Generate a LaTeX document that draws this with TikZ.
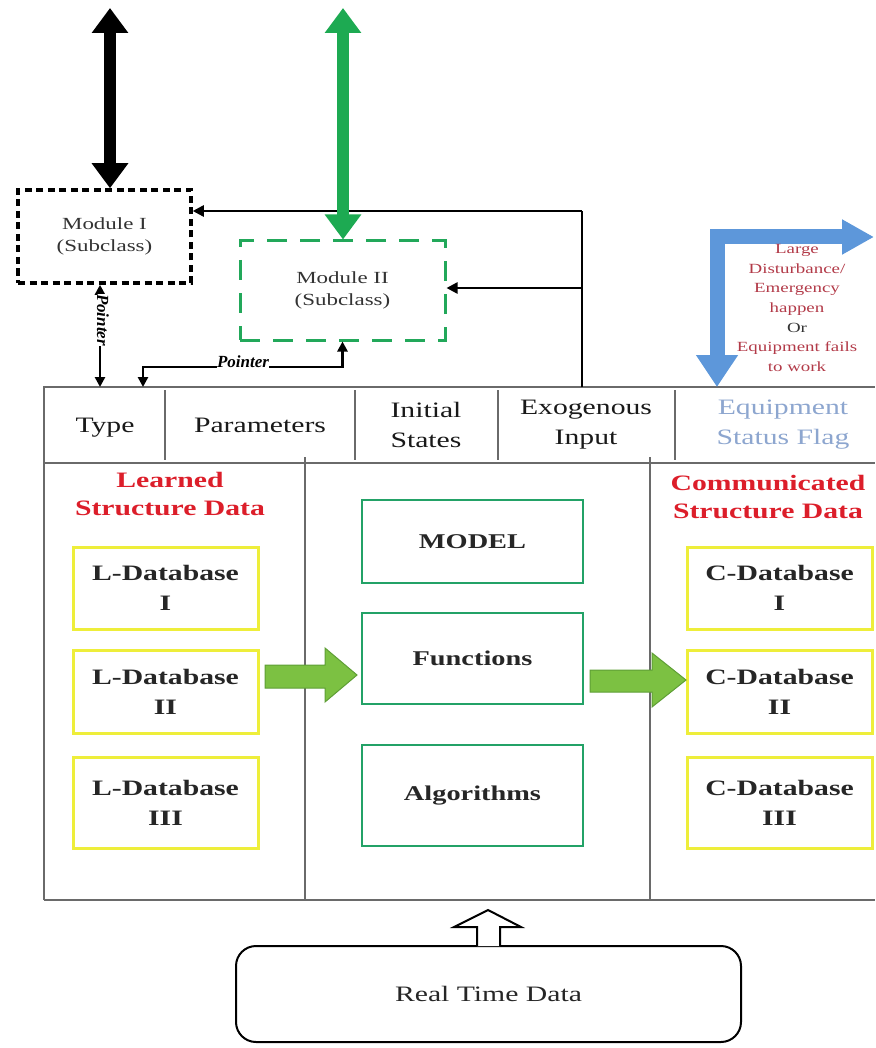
\documentclass[tikz,border=0pt]{standalone}
\usepackage{fontspec}
\setmainfont{Liberation Serif}[FakeStretch=1.35]
\newfontfamily\uprightserif{Liberation Serif}
\usetikzlibrary{arrows.meta}

\definecolor{framegray}{HTML}{6A6A6A}
\definecolor{boxgreen}{HTML}{23A267}
\definecolor{modgreen}{HTML}{22A85A}
\definecolor{bigarrowgreen}{HTML}{1DAA52}
\definecolor{blockfill}{HTML}{7CC142}
\definecolor{blockedge}{HTML}{5E9E35}
\definecolor{dbyellow}{HTML}{EEEE3A}
\definecolor{headred}{HTML}{DC1E2A}
\definecolor{notered}{HTML}{B23A48}
\definecolor{flagblue}{HTML}{5D97DA}
\definecolor{flagtext}{HTML}{8DA6CF}
\definecolor{modtext}{HTML}{333333}

\tikzset{
  frame/.style={draw=framegray, line width=1.5pt},
  hdrtext/.style={align=center, font=\fontsize{22}{30}\selectfont, text=black!90},
  corebox/.style={draw=boxgreen, line width=2.5pt, minimum width=221, align=center,
                  font=\fontsize{21}{28}\selectfont\bfseries, text=black!85},
  dbbox/.style={draw=dbyellow, line width=3pt, minimum width=185, align=center,
                font=\fontsize{22}{30}\selectfont\bfseries, text=black!85},
  heading/.style={align=center, font=\fontsize{22}{28}\selectfont\bfseries, text=headred},
  modbox/.style={minimum width=#1, align=center, font=\fontsize{17}{22}\selectfont, text=modtext},
  link/.style={draw=black, line width=2.5pt, -{Triangle[width=11pt,length=11pt]}},
  ptr/.style={draw=black, line width=2.5pt, {Triangle[width=10pt,length=10pt]}-{Triangle[width=10pt,length=10pt]}},
  ptrlabel/.style={fill=white, inner sep=0.5pt, font=\uprightserif\fontsize{17}{20}\selectfont\bfseries\itshape},
  blockarrow/.style={fill=blockfill, draw=blockedge, line width=1pt, line join=miter},
}

\begin{document}
\begin{tikzpicture}[x=1pt, y=-1pt]
\useasboundingbox (0,0) rectangle (875,1048);

% ---------- main data frame ----------
\draw[frame] (44,900) -- (44,387) -- (875,387);
\draw[frame] (44,463) -- (875,463);
\draw[frame] (44,900) -- (875,900);
\foreach \xx in {165,355,498,675} \draw[frame] (\xx,390) -- (\xx,460);
\draw[frame] (305,457) -- (305,900);
\draw[frame] (650,457) -- (650,900);

% ---------- header cells ----------
\node[hdrtext, anchor=base] (type)  at (105,432) {Type};
\node[hdrtext, anchor=base] (param) at (260,432) {Parameters};
\node[hdrtext] (init)  at (426,425) {Initial\\States};
\node[hdrtext] (exo)   at (586,425) {Exogenous\\Input};
\node[hdrtext, text=flagtext] (flag) at (783,425) {Equipment\\Status Flag};

% ---------- column headings ----------
\node[heading] (learned) at (170,494) {Learned\\Structure Data};
\node[heading] (comm)    at (768,497) {Communicated\\Structure Data};

% ---------- core boxes ----------
\node[corebox, minimum height=83]  (model) at (472.5,541.5) {MODEL};
\node[corebox, minimum height=91]  (func)  at (472.5,658.5) {Functions};
\node[corebox, minimum height=101] (algo)  at (472.5,795.5) {Algorithms};

% ---------- databases ----------
\node[dbbox, minimum height=82] (ldb1) at (165.5,588)   {L-Database\\I};
\node[dbbox, minimum height=83] (ldb2) at (165.5,691.5) {L-Database\\II};
\node[dbbox, minimum height=91] (ldb3) at (165.5,802.5) {L-Database\\III};
\node[dbbox, minimum height=82] (cdb1) at (779.5,588)   {C-Database\\I};
\node[dbbox, minimum height=83] (cdb2) at (779.5,691.5) {C-Database\\II};
\node[dbbox, minimum height=91] (cdb3) at (779.5,802.5) {C-Database\\III};

% ---------- green block arrows ----------
\draw[blockarrow] (265,665) -- (325,665) -- (325,648) -- (357,675) -- (325,702)
  -- (325,688) -- (265,688) -- cycle;
\draw[blockarrow] (590,670) -- (652,670) -- (652,653) -- (686,680) -- (652,707)
  -- (652,692) -- (590,692) -- cycle;

% ---------- real time data ----------
\node[draw=black, line width=2pt, rounded corners=20pt, minimum width=505, minimum height=96,
      font=\fontsize{22}{26}\selectfont, text=black!85] (rtd) at (488.5,994) {Real Time Data};
\draw[draw=black, line width=2pt, fill=white, line join=miter]
  (477,946) -- (477,927) -- (454,927) -- (488,910) -- (521,927) -- (500,927) -- (500,946);

% ---------- modules ----------
\node[modbox=173, minimum height=93, draw=black, line width=3.5pt,
      dash pattern=on 7pt off 4.5pt] (m1) at (104.5,236.5) {Module I\\(Subclass)};
\node[modbox=205, minimum height=99, draw=modgreen, line width=3pt,
      dash pattern=on 20pt off 13pt] (m2) at (342.5,290.5) {Module II\\(Subclass)};

% exogenous input feeding both modules
\coordinate (exotop) at (582,387);
\coordinate (bendA) at (582,211);
\coordinate (bendB) at (582,288);
\draw[draw=black, line width=2.5pt] (exotop) -- (bendA);
\draw[link] (bendA) -- (m1.east |- bendA);
\draw[link] (bendB) -- (m2.east |- bendB);

% pointers from modules to the type cell
\coordinate (ptrA) at (100,387);
\coordinate (ptrB) at (143,387);
\draw[ptr] (m1.south -| ptrA) -- (ptrA);
\node[ptrlabel, rotate=-90] (plabA) at (103,320) {Pointer};
\draw[ptr] (ptrB) -- (143,367) -- (m2.south |- 0,367) -- (m2.south);
\node[ptrlabel, anchor=south] (plabB) at (243,368) {Pointer};

% thick external links
\coordinate (topA) at (110,8);
\coordinate (topB) at (343,8);
\draw[draw=black, line width=12pt,
      {Triangle[width=35pt,length=25pt]}-{Triangle[width=35pt,length=25pt]}]
  (topA) -- (m1.north -| topA);
\draw[draw=bigarrowgreen, line width=12pt,
      {Triangle[width=35pt,length=25pt]}-{Triangle[width=35pt,length=25pt]}]
  (topB) -- (m2.north -| topB);

% equipment status flag event arrow
\coordinate (flagtop) at (717,387);
\coordinate (flagcorner) at (717,237);
\coordinate (flagout) at (874,237);
\draw[draw=flagblue, line width=15pt, line join=miter,
      {Triangle[width=40pt,length=32pt]}-{Triangle[width=33pt,length=32pt]}]
  (flagtop) -- (flagcorner) -- (flagout);
\node[align=center, font=\fontsize{14}{19.7}\selectfont, text=notered] (event) at (797,308)
  {Large\\Disturbance/\\Emergency\\happen\\\textcolor{black!80}{Or}\\Equipment fails\\to work};

\end{tikzpicture}
\end{document}
